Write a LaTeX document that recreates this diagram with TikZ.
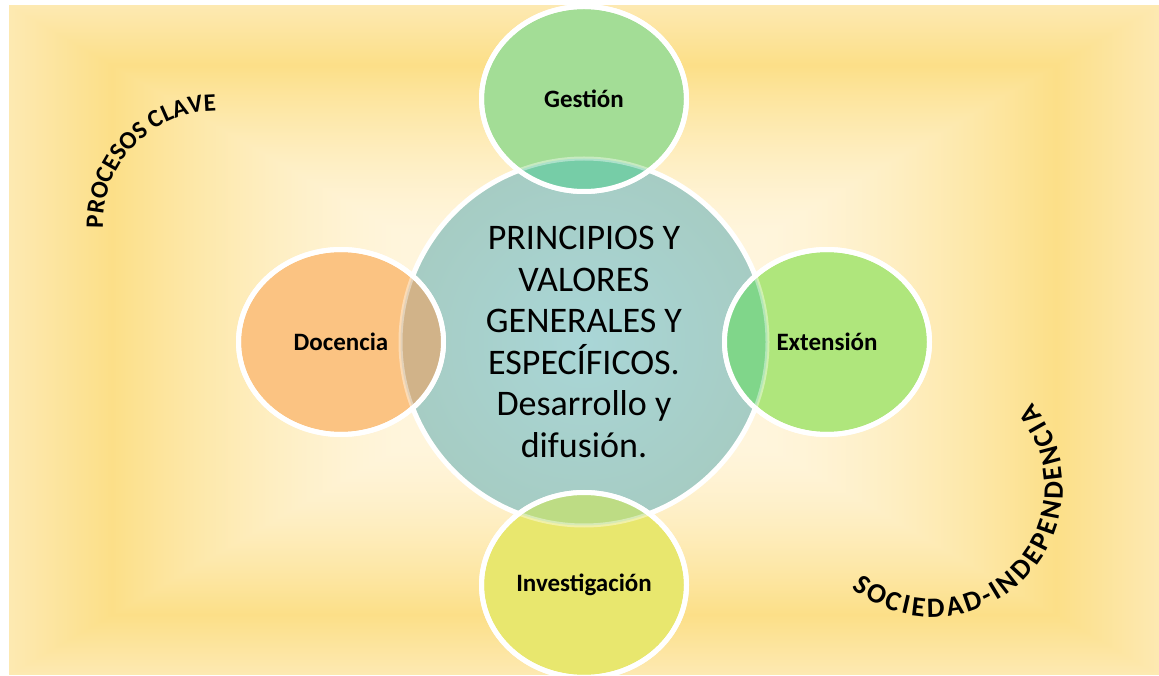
\documentclass[tikz,border=0pt]{standalone}
\usepackage{fontspec}
\setmainfont{Carlito}
\usetikzlibrary{shapes.geometric,decorations.text,positioning}

\definecolor{core}{HTML}{A6CCC3}
\definecolor{coreglow}{HTML}{A9D6D7}
\definecolor{gestion}{HTML}{A3DD96}
\definecolor{docencia}{HTML}{FBC382}
\definecolor{extension}{HTML}{AFE67C}
\definecolor{investig}{HTML}{E8E76E}
\definecolor{gesmix}{HTML}{76CDA7}
\definecolor{docmix}{HTML}{D1B389}
\definecolor{extmix}{HTML}{80D68A}
\definecolor{invmix}{HTML}{BDDC84}

% light middle, deep yellow band, paler rim
\pgfdeclarefunctionalshading{bgbox}{\pgfpoint{-575.5pt}{-335pt}}{\pgfpoint{575.5pt}{335pt}}{}{
  abs 333.7 div exch abs 573.3 div 2 copy lt {exch} if pop
  dup 0.82 lt
  {0.3 sub 0.52 div dup 0 lt {pop 0} if dup sqrt mul
   dup -0.012 mul 1 add exch
   dup -0.086 mul 0.961 add exch
   -0.33 mul 0.863 add}
  {0.82 sub 0.18 div dup 1 gt {pop 1} if
   dup 0.004 mul 0.988 add exch
   dup 0.039 mul 0.875 add exch
   0.165 mul 0.533 add}
  ifelse
}

\begin{document}
\begin{tikzpicture}[x=1pt,y=1pt,node distance=243pt]
    \tikzstyle{petal}=[ellipse, draw=white, line width=5pt, minimum width=205pt,
      minimum height=185pt, inner sep=0pt, font=\fontsize{25}{30}\selectfont\bfseries]
    \tikzstyle{arcword}=[decorate, decoration={text along path, text align=center}]

    % background
    \useasboundingbox (0,0) rectangle (1159,675);
    \node (bg) [inner sep=0pt, anchor=south west] at (8,0) {\pgfuseshading{bgbox}};

    \node (ppio) [circle, draw=white, line width=5pt, inner color=coreglow, outer color=core,
      minimum size=367pt, inner sep=0pt, align=center, font=\fontsize{36}{41.5}\selectfont]
      at (584,333) {PRINCIPIOS Y\\VALORES\\GENERALES Y\\ESPECÍFICOS.\\Desarrollo y\\difusión.};
    \node (ges) [petal, fill=gestion, above of=ppio] {Gestión};
    \node (doc) [petal, fill=docencia, left of=ppio] {Docencia};
    \node (ext) [petal, fill=extension, right of=ppio] {Extensión};
    \node (inv) [petal, fill=investig, below of=ppio] {Investigación};

    % overlaps with the centre
    \foreach \p/\mix in {ges/gesmix, doc/docmix, ext/extmix, inv/invmix} {
      \begin{scope}
        \clip (\p.center) ellipse [x radius=102.5pt, y radius=92.5pt];
        \fill[\mix] (ppio.center) circle [radius=183.5pt];
        \draw[white, opacity=.4, line width=4pt] (ppio.center) circle [radius=183.5pt];
      \end{scope}
      \draw[white, line width=5pt] (\p.center) ellipse [x radius=102.5pt, y radius=92.5pt];
    }

    % curved words
    \path[arcword, decoration={text={|\fontsize{25}{30}\selectfont\bfseries|PROCESOS CLAVE}}]
      (216,451) ++(184:113pt) arc [start angle=184, end angle=88, radius=113pt];
    \path[arcword, decoration={text align={fit to path},
      text={|\fontsize{28}{32}\selectfont\bfseries|SOCIEDAD-INDEPENDENCIA}}]
      (933,188) ++(231:130pt) arc [start angle=231, end angle=400, radius=130pt];
\end{tikzpicture}
\end{document}
